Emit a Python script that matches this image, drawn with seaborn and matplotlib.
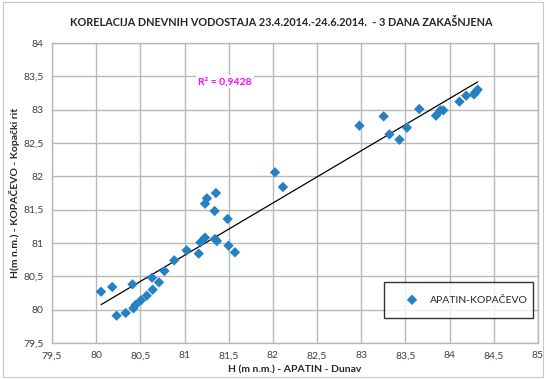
import numpy as np
import pandas as pd
import matplotlib
matplotlib.use("Agg")
import matplotlib.pyplot as plt
import seaborn as sns
from matplotlib.patches import Rectangle

# Daily water levels (m a.s.l.), Kopačevo shifted 3 days
apatin = [80.055, 80.182, 80.232, 80.334, 80.411, 80.422, 80.445, 80.507, 80.573, 80.640,
          80.632, 80.711, 80.773, 80.883, 81.024, 81.161, 81.181, 81.232, 81.232, 81.254,
          81.356, 81.341, 81.345, 81.367, 81.488, 81.498, 81.571, 82.024, 82.114, 82.980,
          83.254, 83.320, 83.433, 83.518, 83.657, 83.846, 83.895, 83.929, 84.112, 84.188,
          84.276, 84.293, 84.318]
kopacevo = [80.27, 80.34, 79.91, 79.95, 80.38, 80.02, 80.07, 80.14, 80.21, 80.30,
            80.48, 80.41, 80.58, 80.74, 80.89, 80.84, 81.01, 81.08, 81.59, 81.67,
            81.75, 81.48, 81.06, 81.03, 81.36, 80.96, 80.86, 82.06, 81.84, 82.76,
            82.90, 82.63, 82.55, 82.73, 83.01, 82.91, 82.99, 82.99, 83.12, 83.21,
            83.23, 83.26, 83.30]
series_name = "APATIN-KOPAČEVO"
r2_label = "R² = 0,9428"

df = pd.DataFrame({"apatin": apatin, "kopacevo": kopacevo})

sns.set_style("white")
plt.rcParams['font.family'] = ['Lato', 'DejaVu Sans']

fig = plt.figure(figsize=(5.46, 3.79), dpi=100)
ax = fig.add_axes([0.0952, 0.095, 0.89, 0.7915])

sns.regplot(data=df, x="apatin", y="kopacevo", scatter=False, ci=None, truncate=True,
            line_kws={"color": "black", "lw": 0.9}, ax=ax)
sns.scatterplot(data=df, x="apatin", y="kopacevo", marker="D", s=28, color="#2581C4",
                edgecolor="none", label=series_name, ax=ax, zorder=3)

ax.set_xlim(79.5, 85)
ax.set_ylim(79.5, 84)
ticks_x = np.arange(79.5, 85.01, 0.5)
ticks_y = np.arange(79.5, 84.01, 0.5)
ax.set_xticks(ticks_x)
ax.set_yticks(ticks_y)
fmt = lambda v: (f"{v:g}").replace(".", ",")
ax.set_xticklabels([fmt(v) for v in ticks_x])
ax.set_yticklabels([fmt(v) for v in ticks_y])
ax.tick_params(axis="both", length=0, labelsize=7.5, colors="#404040", pad=6)
ax.grid(True, color="#b8b8b8", lw=1.0)
ax.set_axisbelow(True)
for s in ax.spines.values():
    s.set_color("#b8b8b8")
    s.set_linewidth(1.0)

ax.set_xlabel("H (m n.m.) - APATIN - Dunav", fontsize=7.5, fontweight="bold", labelpad=4)
ax.set_ylabel("H(m n.m.) - KOPAČEVO - Kopački rit", fontsize=7.5, fontweight="bold", labelpad=2)

ax.text(81.46, 83.42, r2_label, color="#FF00FF", fontsize=7.5, fontweight="bold",
        ha="center", va="center", bbox=dict(facecolor="white", edgecolor="none", pad=1.5))

leg = ax.legend(loc="lower left", bbox_to_anchor=(0.683, 0.083, 0.307, 0.13), mode="expand",
                borderaxespad=0, frameon=True, fancybox=False, fontsize=7.5, borderpad=1.3,
                handletextpad=0.3, handlelength=2.8, markerscale=1.0)
leg.get_frame().set_edgecolor("black")
leg.get_frame().set_linewidth(1.0)

fig.suptitle("KORELACIJA DNEVNIH VODOSTAJA 23.4.2014.-24.6.2014.  - 3 DANA ZAKAŠNJENA",
             x=0.515, y=0.955, fontsize=7.8, fontweight="bold")

fig.patches.append(Rectangle((0.006, 0.006), 0.988, 0.988, transform=fig.transFigure,
                             fill=False, edgecolor="#c8c8c8", lw=0.8))

fig.savefig("out.png", dpi=100)
